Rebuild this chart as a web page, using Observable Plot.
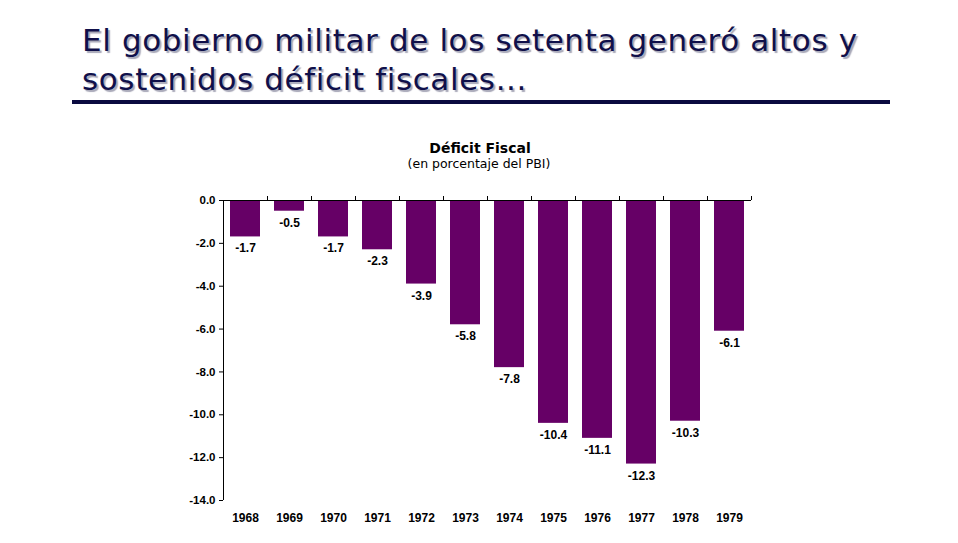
<!DOCTYPE html>
<html>
<head>
<meta charset="utf-8">
<script src="https://cdn.jsdelivr.net/npm/d3@7"></script>
<script src="https://cdn.jsdelivr.net/npm/@observablehq/plot@0.6"></script>
<style>
  html, body { margin: 0; padding: 0; background: #fff; }
  #page { position: relative; width: 958px; height: 543px; overflow: hidden; }
  #title { position: absolute; left: 82px; top: 21px; font-family: "DejaVu Sans", Verdana, sans-serif; font-size: 31px; letter-spacing: 0.62px; line-height: 39px; color: #10104a; text-shadow: 2px 2px 1px #a8a8b8; white-space: nowrap; }
  #rule { position: absolute; left: 72px; top: 100px; width: 818px; height: 4px; background: #0a0a40; }
  #ctitle { position: absolute; left: 0; width: 958px; top: 140px; text-align: center; font-family: "DejaVu Sans", Tahoma, sans-serif; line-height: 16px; }
  #ctitle .t { font-size: 14px; font-weight: bold; color: #000; margin-left: 2px; }
  #ctitle .s { font-size: 12.5px; color: #000; }
  #chart { position: absolute; left: 0; top: 0; }
</style>
</head>
<body>
<div id="page">
  <div id="title">El gobierno militar de los setenta generó altos y<br>sostenidos déficit fiscales...</div>
  <div id="rule"></div>
  <div id="ctitle"><div class="t">Déficit Fiscal</div><div class="s">(en porcentaje del PBI)</div></div>
  <div id="chart"></div>
</div>
<script>
const years = [1968, 1969, 1970, 1971, 1972, 1973, 1974, 1975, 1976, 1977, 1978, 1979];
const deficit = [-1.7, -0.5, -1.7, -2.3, -3.9, -5.8, -7.8, -10.4, -11.1, -12.3, -10.3, -6.1];
const yTicks = [0, -2, -4, -6, -8, -10, -12, -14];
const bandEdges = [1968.5, 1969.5, 1970.5, 1971.5, 1972.5, 1973.5, 1974.5, 1975.5, 1976.5, 1977.5, 1978.5, 1979.5];

const data = years.map((y, i) => ({year: y, value: deficit[i]}));
const barColor = "#660066";

const plot = Plot.plot({
  width: 958,
  height: 543,
  marginLeft: 223,
  marginRight: 207,
  marginTop: 200,
  marginBottom: 43,
  style: {fontFamily: "'Liberation Sans', Arial, sans-serif", fontSize: "12px", background: "transparent", color: "#000"},
  x: {type: "linear", domain: [1967.5, 1979.5]},
  y: {domain: [-14, 0]},
  marks: [
    Plot.rectY(data, {x1: d => d.year - 0.5, x2: d => d.year + 0.5, y1: 0, y2: "value", fill: barColor, insetLeft: 7, insetRight: 7}),
    Plot.ruleY([0], {stroke: "#000", strokeWidth: 1}),
    Plot.ruleX(bandEdges, {x: d => d, y1: 0, y2: 0, insetTop: -4, stroke: "#000"}),
    Plot.ruleX([1967.5], {x: d => d, y1: -14, y2: 0, stroke: "#000"}),
    Plot.axisY({ticks: yTicks, tickFormat: d => d.toFixed(1), tickSize: 4, tickPadding: 4, fontWeight: "bold", fontSize: 11.5, label: null}),
    Plot.axisX({ticks: years, tickFormat: d => String(d), tickSize: 0, tickPadding: 13, fontWeight: "bold", fontSize: 12, label: null}),
    Plot.text(data, {x: "year", y: "value", text: d => d.value.toFixed(1), lineAnchor: "top", dy: 7, fontWeight: "bold", fontSize: 12, fill: "#000"})
  ]
});
document.getElementById("chart").appendChild(plot);
</script>
</body>
</html>
